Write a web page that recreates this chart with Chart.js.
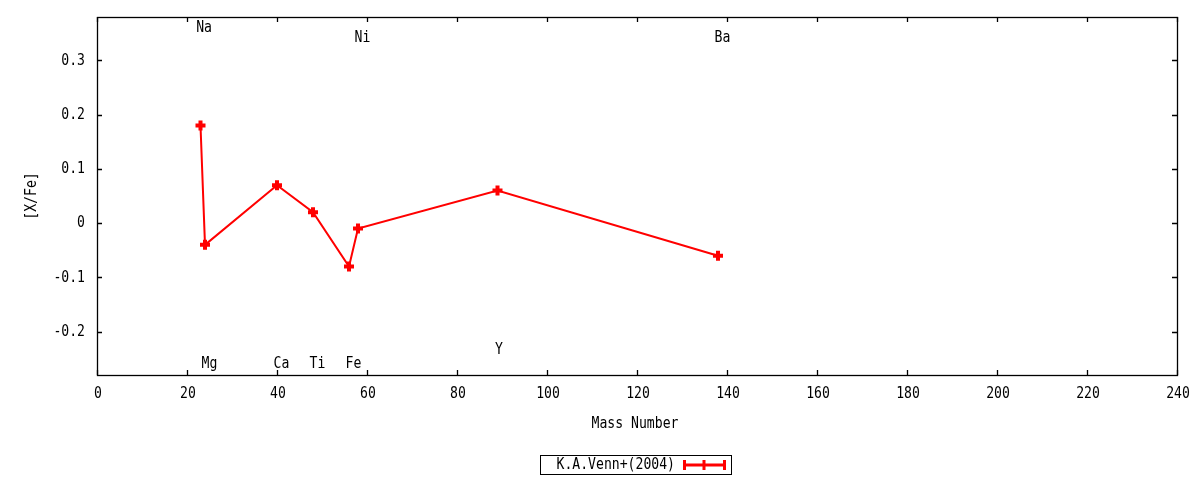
<!DOCTYPE html>
<html>
<head>
<meta charset="utf-8">
<script src="https://cdn.jsdelivr.net/npm/chart.js@4.4.1/dist/chart.umd.min.js"></script>
<style>
  html, body { margin: 0; padding: 0; background: #fff; }
  #wrap { width: 1200px; height: 480px; }
</style>
</head>
<body>
<div id="wrap"><canvas id="mainChart" width="1200" height="480"></canvas></div>
<script>
// --- data ---
const elements = ['Na', 'Mg', 'Ca', 'Ti', 'Fe', 'Ni', 'Y', 'Ba'];
const massNumbers = [23, 24, 40, 48, 56, 58, 89, 138];
const xFe = [0.18, -0.04, 0.07, 0.02, -0.08, -0.01, 0.06, -0.06];
// where each element name sits (data coords)
const labelX = [23.8, 25.0, 41.0, 49.0, 57.0, 59.0, 89.3, 139.0];
const labelY = [0.36, -0.26, -0.26, -0.26, -0.26, 0.342, -0.234, 0.342];
const xTicks = [0, 20, 40, 60, 80, 100, 120, 140, 160, 180, 200, 220, 240];
const yTicks = [-0.2, -0.1, 0, 0.1, 0.2, 0.3];
const yTickLabels = ['-0.2', '-0.1', '0', '0.1', '0.2', '0.3'];
const seriesName = 'K.A.Venn+(2004)';

const FONT = '16px "DejaVu Sans Mono", "Liberation Mono", monospace';
const SQUEEZE = 0.82;   // the reference font is a narrow mono
const RED = '#ff0000';

function label(c, text, x, y, align, rot) {
    c.save();
    c.translate(x, y);
    if (rot) c.rotate(rot);
    c.scale(SQUEEZE, 1);
    c.textAlign = align || 'center';
    c.textBaseline = 'middle';
    c.fillText(text, 0, 0);
    c.restore();
}

// --- gnuplot-ish frame, inward ticks, labels, key ---
const framePlugin = {
    id: 'frame',
    afterDraw(chart) {
        const c = chart.ctx, a = chart.chartArea;
        const xs = chart.scales.x, ys = chart.scales.y;
        c.save();
        c.strokeStyle = '#000';
        c.lineWidth = 1.3;
        c.strokeRect(a.left + 0.5, a.top + 0.5, a.right - a.left, a.bottom - a.top);

        c.beginPath();
        xTicks.forEach(v => {
            const px = Math.round(xs.getPixelForValue(v)) + 0.5;
            c.moveTo(px, a.bottom); c.lineTo(px, a.bottom - 5);
            c.moveTo(px, a.top); c.lineTo(px, a.top + 5);
        });
        yTicks.forEach(v => {
            const py = Math.round(ys.getPixelForValue(v)) + 0.5;
            c.moveTo(a.left, py); c.lineTo(a.left + 5, py);
            c.moveTo(a.right, py); c.lineTo(a.right - 5, py);
        });
        c.stroke();

        c.fillStyle = '#000';
        c.font = FONT;
        xTicks.forEach(v => label(c, String(v), xs.getPixelForValue(v) + 1, a.bottom + 19, 'center'));
        yTicks.forEach((v, i) => label(c, yTickLabels[i], a.left - 12, ys.getPixelForValue(v), 'right'));

        elements.forEach((el, i) => {
            label(c, el, xs.getPixelForValue(labelX[i]), ys.getPixelForValue(labelY[i]), 'center');
        });

        // axis titles
        label(c, 'Mass Number', (a.left + a.right) / 2 - 2, 424, 'center');
        label(c, '[X/Fe]', 32, 196, 'center', -Math.PI / 2);

        // key
        c.lineWidth = 1;
        c.strokeRect(540.5, 455.5, 191, 19);
        label(c, seriesName, 675, 465, 'right');
        c.strokeStyle = RED;
        c.lineWidth = 3;
        c.beginPath();
        c.moveTo(684, 465); c.lineTo(724, 465);
        c.moveTo(684.5, 460); c.lineTo(684.5, 470);
        c.moveTo(724.5, 460); c.lineTo(724.5, 470);
        c.moveTo(704, 460); c.lineTo(704, 470);
        c.stroke();
        c.restore();
    }
};

const ctx = document.getElementById('mainChart').getContext('2d');
const mainChart = new Chart(ctx, {
    type: 'scatter',
    data: {
        datasets: [{
            label: seriesName,
            data: massNumbers.map((m, i) => ({ x: m, y: xFe[i] })),
            showLine: true,
            borderColor: RED,
            backgroundColor: RED,
            borderWidth: 2,
            pointStyle: 'cross',
            pointRadius: 5,
            pointBorderWidth: 4,
            pointBorderColor: RED
        }]
    },
    options: {
        responsive: false,
        animation: false,
        devicePixelRatio: 1,
        layout: { padding: { left: 0, top: 17, right: 23, bottom: 0 } },
        plugins: { legend: { display: false }, tooltip: { enabled: false } },
        scales: {
            x: {
                type: 'linear', min: 0, max: 240,
                afterBuildTicks: s => { s.ticks = xTicks.map(v => ({ value: v })); },
                afterFit: s => { s.height = 105; },
                grid: { display: false, drawTicks: false },
                border: { display: false },
                ticks: { display: false }
            },
            y: {
                type: 'linear', min: -0.28, max: 0.38,
                afterBuildTicks: s => { s.ticks = yTicks.map(v => ({ value: v })); },
                afterFit: s => { s.width = 97; },
                grid: { display: false, drawTicks: false },
                border: { display: false },
                ticks: { display: false }
            }
        }
    },
    plugins: [framePlugin]
});
</script>
</body>
</html>
